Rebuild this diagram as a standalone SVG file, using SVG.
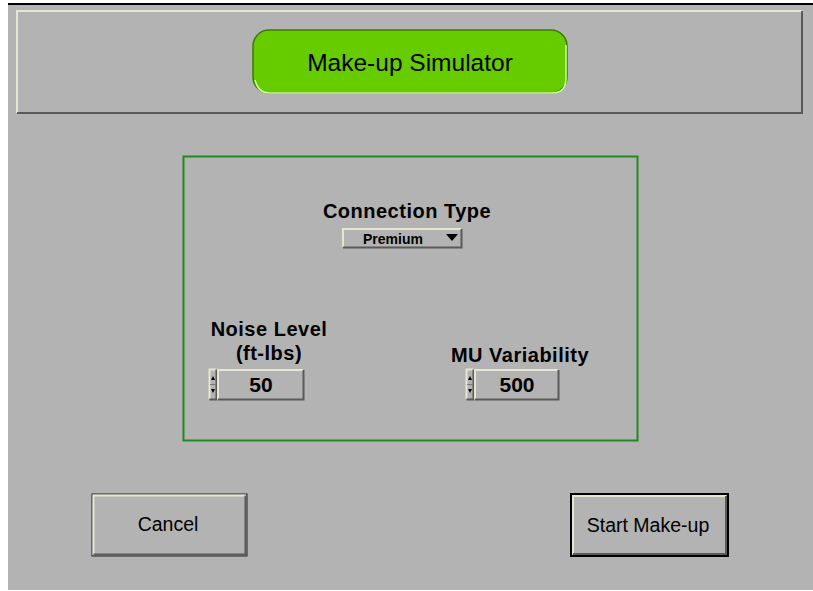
<svg xmlns="http://www.w3.org/2000/svg" width="813" height="591" viewBox="0 0 813 591">
<style>
text{font-family:"Liberation Sans",Arial,sans-serif;fill:#000;text-anchor:middle}
.lbl{font-weight:bold;font-size:20px;letter-spacing:0.5px}
.val{font-weight:bold;font-size:21px}
.btn{font-size:19.5px}
.hl{stroke:#e6e6d2;stroke-width:2;fill:none}
.sh{stroke:#5a5a5a;stroke-width:2;fill:none}
.box{fill:#b3b3b3}
</style>
<rect x="0" y="0" width="813" height="591" fill="#ffffff"/>
<rect x="8" y="4" width="805" height="586" fill="#b3b3b3"/>
<line x1="8" y1="4" x2="813" y2="4" stroke="#000" stroke-width="2"/>

<g id="header-panel">
<rect x="16" y="10" width="787" height="104" fill="#b3b3b3"/>
<polyline class="hl" points="17,113 17,11 802,11" stroke-width="3"/>
<polyline class="sh" points="17,113 802,113 802,11" stroke-width="3"/>
</g>

<g id="title">
<rect x="253" y="30" width="314" height="63" rx="16" fill="#66cc00" stroke="#3f7a00" stroke-width="1.5"/>
<path d="M255,80 Q258,93 270,93 L552,93 Q566,93 566,78 L566,45" fill="none" stroke="#ccff99" stroke-width="1.5"/>
<text x="410" y="71" style="font-size:24.5px">Make-up Simulator</text>
</g>

<g id="settings-frame">
<rect x="183.5" y="156.5" width="454" height="284" fill="none" stroke="#1f8a1f" stroke-width="2"/>
</g>

<g id="connection-type">
<text class="lbl" x="407" y="218">Connection Type</text>
<rect x="342" y="228" width="120" height="20" class="box"/>
<polyline class="hl" points="343,247 343,229 461,229" stroke-width="1.5"/>
<polyline class="sh" points="343,247.5 461.5,247.5 461.5,229" stroke-width="1.5"/>
<text x="393" y="243.5" style="font-weight:bold;font-size:14px">Premium</text>
<polygon points="446,234 458,234 452,241" fill="#000"/>
</g>

<g id="noise-level">
<text class="lbl" x="269" y="336">Noise Level</text>
<text class="lbl" x="269" y="360">(ft-lbs)</text>
<rect x="209" y="369" width="8" height="31" class="box"/>
<polyline class="hl" points="209.5,399 209.5,369.5 216.5,369.5" stroke-width="1"/>
<polyline class="sh" points="209.5,399.5 216.5,399.5 216.5,369.5" stroke-width="1"/>
<line x1="210" y1="384.5" x2="216" y2="384.5" stroke="#777" stroke-width="1"/>
<polygon points="211,380 215,380 213,376" fill="#000"/>
<polygon points="211,389 215,389 213,393" fill="#000"/>
<rect x="217" y="369" width="87" height="31" class="box"/>
<polyline class="hl" points="218,399 218,370 303,370" stroke-width="2"/>
<polyline class="sh" points="218,399.5 303.5,399.5 303.5,370" stroke-width="1.5"/>
<text class="val" x="261" y="392">50</text>
</g>

<g id="mu-variability">
<text class="lbl" x="520" y="362">MU Variability</text>
<rect x="466" y="369" width="8" height="31" class="box"/>
<polyline class="hl" points="466.5,399 466.5,369.5 473.5,369.5" stroke-width="1"/>
<polyline class="sh" points="466.5,399.5 473.5,399.5 473.5,369.5" stroke-width="1"/>
<line x1="467" y1="384.5" x2="473" y2="384.5" stroke="#777" stroke-width="1"/>
<polygon points="468,380 472,380 470,376" fill="#000"/>
<polygon points="468,389 472,389 470,393" fill="#000"/>
<rect x="474" y="369" width="85" height="31" class="box"/>
<polyline class="hl" points="475,399 475,370 558,370" stroke-width="2"/>
<polyline class="sh" points="475,399.5 558.5,399.5 558.5,370" stroke-width="1.5"/>
<text class="val" x="517" y="392">500</text>
</g>

<g id="cancel-button">
<rect x="92" y="494" width="155" height="62" class="box" stroke="#222" stroke-width="1"/>
<polyline class="hl" points="93.5,555 93.5,495.5 246,495.5" stroke-width="2"/>
<polyline class="sh" points="93.5,554.5 245.5,554.5 245.5,495.5" stroke-width="2"/>
<text class="btn" x="168" y="531">Cancel</text>
</g>

<g id="start-button">
<rect x="571" y="494" width="157" height="62" class="box" stroke="#000" stroke-width="2"/>
<polyline class="hl" points="573,554 573,496 726,496" stroke-width="2"/>
<polyline class="sh" points="573,554 726,554 726,496" stroke-width="2"/>
<text class="btn" x="648" y="532">Start Make-up</text>
</g>
</svg>
